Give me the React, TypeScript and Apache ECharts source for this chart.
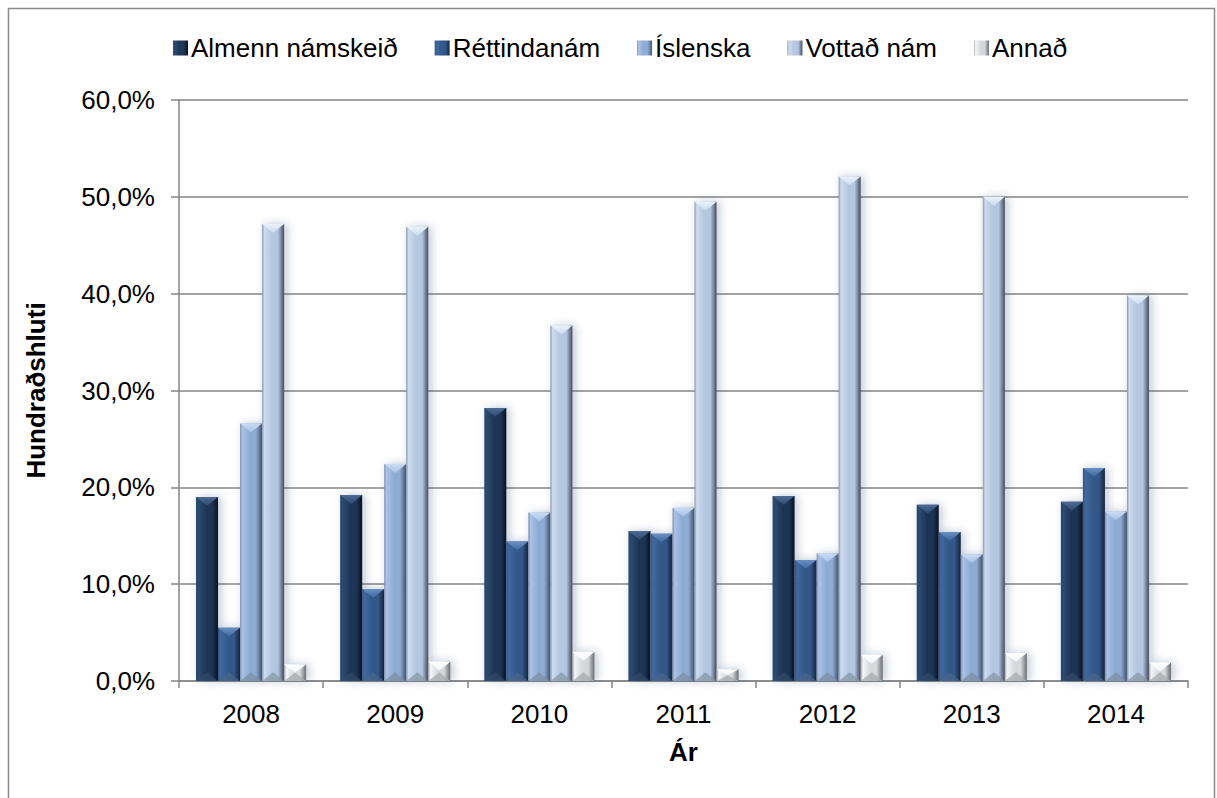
import React, { useEffect, useRef } from "react";
import * as echarts from "echarts";

const categories = ["2008", "2009", "2010", "2011", "2012", "2013", "2014"];
const seriesNames = ["Almenn námskeið", "Réttindanám", "Íslenska", "Vottað nám", "Annað"];
const almenn = [19.0, 19.2, 28.2, 15.5, 19.1, 18.2, 18.5];
const rettindanam = [5.5, 9.5, 14.4, 15.2, 12.5, 15.4, 22.0];
const islenska = [26.6, 22.4, 17.4, 17.9, 13.2, 13.1, 17.5];
const vottad = [47.2, 46.9, 36.7, 49.5, 52.1, 50.0, 39.8];
const annad = [1.7, 2.0, 3.0, 1.2, 2.7, 2.9, 1.9];
const yTicks = [0, 10, 20, 30, 40, 50, 60];

const seriesValues = [almenn, rettindanam, islenska, vottad, annad];

const palettes = [
  { edge: "#2b4368", light: "#2c4a72", base: "#1f3656", dark: "#0a1320", top: "#4f6b93", bottom: "#34496a" },
  { edge: "#2e4e7a", light: "#4169a0", base: "#33598a", dark: "#15243a", top: "#6a90c2", bottom: "#4a6488" },
  { edge: "#7b8fab", light: "#a9c2e6", base: "#8eabd4", dark: "#46566c", top: "#cbdcf3", bottom: "#7d8ea6" },
  { edge: "#8393a9", light: "#cddcf0", base: "#b4c6e0", dark: "#434e5e", top: "#eaf1fa", bottom: "#8a98aa" },
  { edge: "#9ea2a7", light: "#f4f5f6", base: "#d6d9dc", dark: "#6a6e73", top: "#ffffff", bottom: "#a6aaae" },
];

const FONT = "'Liberation Sans', Arial, sans-serif";
const GRID_LEFT = 179;
const GRID_RIGHT = 29;
const GRID_TOP = 100;
const GRID_BOTTOM = 117;
const GROUP_FILL = 0.764;

function bodyGradient(p: any) {
  return new echarts.graphic.LinearGradient(0, 0, 1, 0, [
    { offset: 0, color: p.edge },
    { offset: 0.1, color: p.light },
    { offset: 0.45, color: p.base },
    { offset: 0.72, color: p.base },
    { offset: 1, color: p.dark },
  ]);
}

export default function App() {
  const ref = useRef<HTMLDivElement>(null);

  useEffect(() => {
    if (!ref.current) return;
    const chart = echarts.init(ref.current, undefined, { renderer: "svg" });
    const nSeries = seriesNames.length;

    const series = seriesNames.map((name, si) => {
      const p = palettes[si];
      return {
        name,
        type: "custom",
        encode: { x: 0, y: 1 },
        itemStyle: { color: bodyGradient(p) },
        data: seriesValues[si].map((v, ci) => [ci, v]),
        renderItem: (params: any, api: any) => {
          const cat = api.value(0);
          const val = api.value(1);
          const base = api.coord([cat, 0]);
          const top = api.coord([cat, val]);
          const catW = api.size([1, 0])[0];
          const w = (catW * GROUP_FILL) / nSeries;
          const x0 = base[0] - (nSeries / 2) * w + si * w;
          const x1 = x0 + w;
          const xc = x0 + w / 2;
          const y0 = top[1];
          const y1 = base[1];
          const h = y1 - y0;
          const d = Math.min(w * 0.4, h / 2);
          return {
            type: "group",
            children: [
              {
                type: "rect",
                shape: { x: x0, y: y0, width: w, height: h },
                style: {
                  fill: bodyGradient(p),
                  shadowBlur: 8,
                  shadowOffsetX: 3,
                  shadowOffsetY: 0,
                  shadowColor: "rgba(40,60,100,0.28)",
                },
              },
              {
                type: "polygon",
                shape: { points: [[x0, y0], [x1, y0], [xc, y0 + d]] },
                style: {
                  fill: new echarts.graphic.LinearGradient(0, 0, 0, 1, [
                    { offset: 0, color: p.top },
                    { offset: 1, color: p.light },
                  ]),
                },
              },
              {
                type: "polygon",
                shape: { points: [[x0, y1], [x1, y1], [xc, y1 - d]] },
                style: { fill: p.bottom, opacity: 0.75 },
              },
            ],
          };
        },
      };
    });

    chart.setOption({
      animation: false,
      backgroundColor: "#ffffff",
      textStyle: { fontFamily: FONT },
      graphic: [
        {
          type: "rect",
          shape: { x: 8.5, y: 8.5, width: 1206, height: 810 },
          style: { fill: "none", stroke: "#8a8a8a", lineWidth: 1.5 },
          silent: true,
        },
      ],
      legend: {
        data: seriesNames,
        left: 168,
        top: 30,
        icon: "rect",
        itemWidth: 15,
        itemHeight: 15,
        itemGap: 37,
        textStyle: { fontSize: 26, color: "#000", fontFamily: FONT, padding: [0, 0, 0, -2] },
      },
      grid: { left: GRID_LEFT, right: GRID_RIGHT, top: GRID_TOP, bottom: GRID_BOTTOM },
      xAxis: {
        type: "category",
        data: categories,
        boundaryGap: true,
        name: "Ár",
        nameLocation: "middle",
        nameGap: 58,
        nameTextStyle: { fontSize: 26, fontWeight: "bold", color: "#000", fontFamily: FONT },
        axisLine: { show: true, lineStyle: { color: "#868686", width: 1.5 } },
        axisTick: { show: true, length: 7, interval: 0, lineStyle: { color: "#868686", width: 1.5 } },
        axisLabel: { fontSize: 26, color: "#000", margin: 20, fontFamily: FONT },
      },
      yAxis: {
        type: "value",
        min: yTicks[0],
        max: yTicks[yTicks.length - 1],
        interval: 10,
        name: "Hundraðshluti",
        nameLocation: "middle",
        nameRotate: 90,
        nameGap: 130,
        nameTextStyle: { fontSize: 26, fontWeight: "bold", color: "#000", fontFamily: FONT },
        axisLine: { show: true, lineStyle: { color: "#868686", width: 1.5 } },
        axisTick: { show: true, length: 8, inside: false, lineStyle: { color: "#868686", width: 1.5 } },
        axisLabel: {
          fontSize: 26,
          color: "#000",
          margin: 24,
          fontFamily: FONT,
          formatter: (v: number) => v.toFixed(1).replace(".", ",") + "%",
        },
        splitLine: { show: true, lineStyle: { color: "#868686", width: 1.5 } },
      },
      series,
    });

    return () => chart.dispose();
  }, []);

  return (
    <div
      ref={ref}
      style={{ position: "fixed", left: 0, top: 0, width: 1217, height: 798, background: "#fff" }}
    />
  );
}
